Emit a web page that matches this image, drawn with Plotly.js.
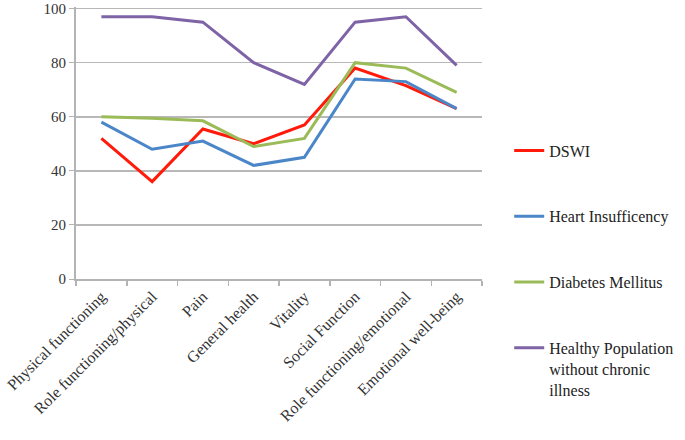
<!DOCTYPE html>
<html>
<head>
<meta charset="utf-8">
<script src="https://cdn.plot.ly/plotly-3.0.1.min.js"></script>
<style>html,body{margin:0;padding:0;background:#fff;}#chart{width:685px;height:440px;}</style>
</head>
<body>
<div id="chart"></div>
<script>
var categories = ["Physical functioning", "Role functioning/physical", "Pain", "General health", "Vitality", "Social Function", "Role functioning/emotional", "Emotional well-being"];
var seriesNames = ["DSWI", "Heart Insufficency", "Diabetes Mellitus", "Healthy Population<br>without chronic<br>illness"];
var dswi = [52, 36, 55.5, 50, 57, 78, 71.5, 63];
var heart = [58, 48, 51, 42, 45, 74, 73, 63];
var diabetes = [60, 59.5, 58.5, 49, 52, 80, 78, 69];
var healthy = [97, 97, 95, 80, 72, 95, 97, 79];
var colors = ["#FF1A0A", "#4A86C8", "#9BBB59", "#7E63A6"];
var yTicks = [0, 20, 40, 60, 80, 100];

var allValues = [dswi, heart, diabetes, healthy];
var traces = allValues.map(function (vals, i) {
  return {
    x: categories,
    y: vals,
    type: "scatter",
    mode: "lines",
    name: seriesNames[i],
    legendgroup: "g" + i,
    line: {color: colors[i], width: 3}
  };
});

var serif = "'Liberation Serif', 'Times New Roman', 'DejaVu Serif', serif";

var layout = {
  width: 685,
  height: 440,
  margin: {l: 76, r: 199, t: 7, b: 161},
  paper_bgcolor: "#fff",
  plot_bgcolor: "#fff",
  font: {family: serif, size: 15, color: "#333"},
  showlegend: true,
  legend: {
    x: 1.067, xanchor: "left",
    y: 0.535, yanchor: "top",
    valign: "top",
    tracegroupgap: 42,
    font: {family: serif, size: 16, color: "#222"},
    bgcolor: "rgba(0,0,0,0)"
  },
  xaxis: {
    type: "category",
    tickangle: -45,
    showgrid: false,
    showline: true,
    linecolor: "#B3B3B3",
    linewidth: 2,
    ticks: "outside",
    tickson: "boundaries",
    ticklen: 5,
    tickcolor: "#B3B3B3",
    tickwidth: 1.5,
    tickfont: {family: serif, size: 16, color: "#333"},
    range: [-0.5, 7.5],
    fixedrange: true
  },
  yaxis: {
    range: [0, 100.6],
    tickvals: yTicks,
    ticktext: yTicks.map(String),
    showgrid: true,
    gridcolor: "#B8B8B8",
    gridwidth: 1.5,
    zeroline: false,
    showline: true,
    linecolor: "#B3B3B3",
    linewidth: 2,
    ticks: "outside",
    ticklen: 5,
    tickcolor: "#B3B3B3",
    tickfont: {family: serif, size: 15, color: "#333"},
    fixedrange: true
  }
};

Plotly.newPlot("chart", traces, layout, {displayModeBar: false, staticPlot: true});
</script>
</body>
</html>
